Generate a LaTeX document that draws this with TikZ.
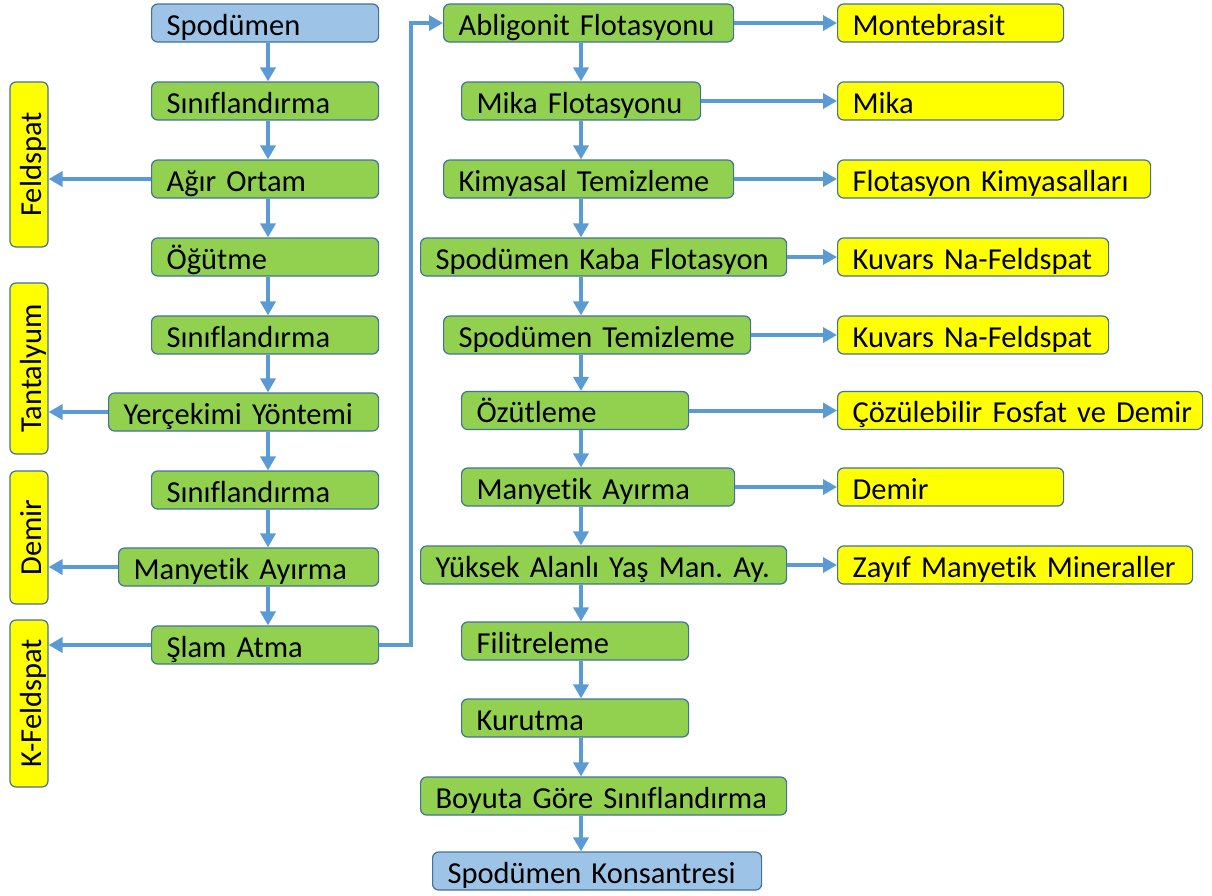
\documentclass[tikz,border=0pt]{standalone}
\usepackage{fontspec}
\setmainfont{Carlito}[Ligatures=NoCommon]
\usetikzlibrary{arrows.meta}

\definecolor{boxline}{HTML}{41719C}
\definecolor{feedblue}{HTML}{9DC3E6}
\definecolor{stepgreen}{HTML}{92D050}
\definecolor{outyellow}{HTML}{FFFF00}
\definecolor{flowblue}{HTML}{5B9BD5}

\tikzset{
  box/.style={draw=boxline,line width=1.2pt,rounded corners=6pt,anchor=west,
    font=\fontsize{30.5}{36}\selectfont\frenchspacing,inner xsep=15pt,inner ysep=0pt,
    minimum height=38pt,text height=24pt,text depth=0pt,text width=#1pt,
    execute at begin node=\hbox\bgroup,execute at end node=\egroup},
  feed/.style={box=#1,fill=feedblue},
  proc/.style={box=#1,fill=stepgreen},
  waste/.style={box=#1,fill=outyellow},
  side/.style={draw=boxline,line width=1.2pt,rounded corners=6pt,fill=outyellow,
    rotate=90,font=\fontsize{30.5}{36}\selectfont,inner sep=0pt,
    minimum width=#1pt,minimum height=38pt,text height=24pt,text depth=0pt},
  flow/.style={draw=flowblue,line width=4pt,-{Triangle[length=14pt,width=15pt]}}
}

\begin{document}
\begin{tikzpicture}[x=1pt,y=1pt]
\useasboundingbox (0,0) rectangle (1212,-895);

% left column
\node[feed=197] (spod) at (151,-23) {Spodümen};
\node[proc=197] (sin1) at (151,-101) {Sınıflandırma};
\node[proc=197] (agir) at (151,-179) {Ağır Ortam};
\node[proc=197] (ogut) at (151,-257) {Öğütme};
\node[proc=197] (sin2) at (151,-335) {Sınıflandırma};
\node[proc=240] (yerc) at (108,-412) {Yerçekimi Yöntemi};
\node[proc=197] (sin3) at (151,-490) {Sınıflandırma};
\node[proc=230] (many1) at (118,-567) {Manyetik Ayırma};
\node[proc=197] (slam) at (151,-645) {Şlam Atma};

% side products on the left
\node[side=165] (feld) at (29,-164.5) {Feldspat};
\node[side=171] (tant) at (29,-368.5) {Tantalyum};
\node[side=133] (demL) at (29,-537.5) {Demir};
\node[side=167] (kfeld) at (29,-703.5) {K-Feldspat};

% middle column
\node[proc=260] (abl) at (443,-23) {Abligonit Flotasyonu};
\node[proc=209] (mika) at (461,-101) {Mika Flotasyonu};
\node[proc=260] (kim) at (443,-179) {Kimyasal Temizleme};
\node[proc=336] (kaba) at (420,-257) {Spodümen Kaba Flotasyon};
\node[proc=277] (tem) at (443,-335) {Spodümen Temizleme};
\node[proc=197] (ozut) at (461,-410.5) {Özütleme};
\node[proc=243] (many2) at (461,-487) {Manyetik Ayırma};
\node[proc=336] (yuk) at (420,-565) {Yüksek Alanlı Yaş Man. Ay.};
\node[proc=197] (fil) at (461,-641) {Filitreleme};
\node[proc=197] (kur) at (461,-718) {Kurutma};
\node[proc=336] (boy) at (420,-796) {Boyuta Göre Sınıflandırma};
\node[feed=299] (kons) at (432,-871) {Spodümen Konsantresi};

% right column
\node[waste=196] (mont) at (837,-23) {Montebrasit};
\node[waste=196] (mikaO) at (837,-101) {Mika};
\node[waste=283] (kimO) at (837,-179) {Flotasyon Kimyasalları};
\node[waste=241] (kuv1) at (837,-257) {Kuvars Na-Feldspat};
\node[waste=241] (kuv2) at (837,-335) {Kuvars Na-Feldspat};
\node[waste=335] (coz) at (837,-410.5) {Çözülebilir Fosfat ve Demir};
\node[waste=196] (demR) at (837,-487) {Demir};
\node[waste=325] (zay) at (837,-565) {Zayıf Manyetik Mineraller};

\coordinate (leftx) at (268,0);
\coordinate (midx) at (581,0);

% main line, left
\foreach \a/\b in {spod/sin1,sin1/agir,agir/ogut,ogut/sin2,sin2/yerc,yerc/sin3,sin3/many1,many1/slam}
  \draw[flow] (\a.south -| leftx) -- (\b.north -| leftx);
% main line, middle
\foreach \a/\b in {abl/mika,mika/kim,kim/kaba,kaba/tem,tem/ozut,ozut/many2,many2/yuk,yuk/fil,fil/kur,kur/boy,boy/kons}
  \draw[flow] (\a.south -| midx) -- (\b.north -| midx);

% to the left
\foreach \a/\b in {agir/feld,yerc/tant,many1/demL,slam/kfeld}
  \draw[flow] (\a.west) -- (\a.west -| \b.south);
% to the right
\foreach \a/\b in {abl/mont,mika/mikaO,kim/kimO,kaba/kuv1,tem/kuv2,ozut/coz,many2/demR,yuk/zay}
  \draw[flow] (\a.east) -- (\b.west);

\draw[flow] (slam.east) -- ++(32,0) |- (abl.west);
\end{tikzpicture}
\end{document}
